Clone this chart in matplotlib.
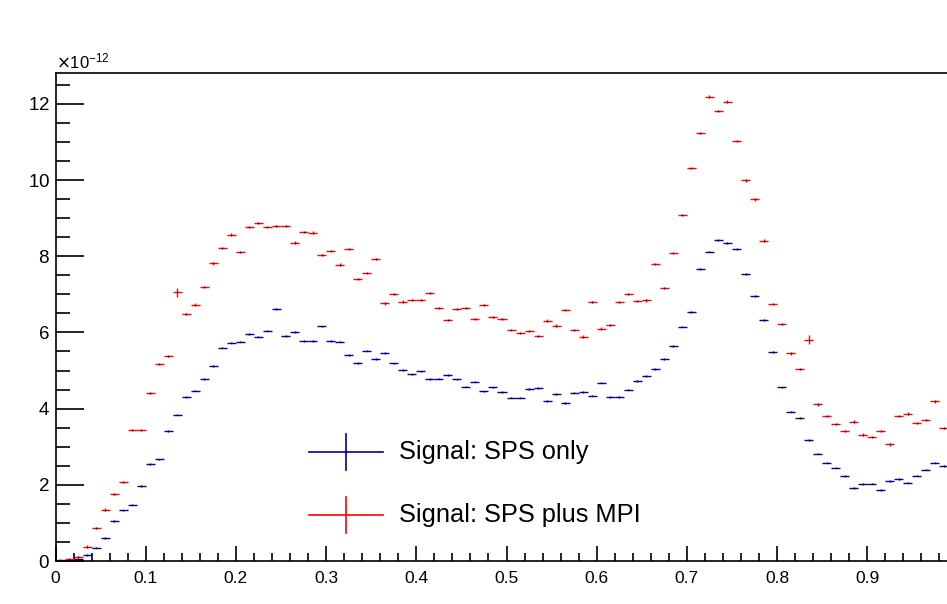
import numpy as np
import matplotlib
matplotlib.use("Agg")
import matplotlib.pyplot as plt
from matplotlib.ticker import MultipleLocator, ScalarFormatter
from matplotlib.lines import Line2D

plt.rcParams['font.family'] = ['Liberation Sans', 'DejaVu Sans']

# histogram: 100 bins on [0, 1], only the first 99 are visible in the picture
bin_width = 0.01
scale = 1e-12

# Signal: SPS only (units of 1e-12)
sps_only = [
    0.01, 0.03, 0.04, 0.16, 0.35, 0.61, 1.05, 1.33, 1.48, 1.97,
    2.54, 2.67, 3.41, 3.84, 4.31, 4.47, 4.78, 5.12, 5.60, 5.73,
    5.76, 5.96, 5.89, 6.05, 6.61, 5.90, 6.01, 5.78, 5.78, 6.16,
    5.78, 5.76, 5.41, 5.20, 5.52, 5.30, 5.46, 5.19, 5.01, 4.90,
    4.98, 4.78, 4.79, 4.88, 4.77, 4.58, 4.71, 4.45, 4.56, 4.43,
    4.29, 4.29, 4.51, 4.54, 4.20, 4.39, 4.15, 4.42, 4.44, 4.34,
    4.68, 4.31, 4.30, 4.50, 4.72, 4.86, 5.04, 5.30, 5.64, 6.15,
    6.54, 7.67, 8.12, 8.43, 8.35, 8.19, 7.54, 6.95, 6.33, 5.48,
    4.56, 3.92, 3.75, 3.18, 2.82, 2.58, 2.45, 2.23, 1.91, 2.02,
    2.03, 1.86, 2.10, 2.15, 2.06, 2.24, 2.40, 2.58, 2.50,
]

# Signal: SPS plus MPI (units of 1e-12)
sps_mpi = [
    0.02, 0.05, 0.10, 0.38, 0.87, 1.35, 1.76, 2.07, 3.44, 3.44,
    4.41, 5.17, 5.39, 7.05, 6.49, 6.73, 7.19, 7.81, 8.22, 8.57,
    8.12, 8.77, 8.88, 8.76, 8.80, 8.79, 8.36, 8.63, 8.62, 8.04,
    8.14, 7.78, 8.19, 7.41, 7.56, 7.93, 6.76, 7.01, 6.81, 6.85,
    6.85, 7.04, 6.64, 6.33, 6.61, 6.64, 6.36, 6.72, 6.40, 6.36,
    6.07, 5.99, 6.04, 5.91, 6.31, 6.18, 6.58, 6.06, 5.89, 6.79,
    6.10, 6.19, 6.80, 7.00, 6.82, 6.84, 7.80, 7.17, 8.08, 9.08,
    10.32, 11.23, 12.19, 11.81, 12.06, 11.02, 9.99, 9.49, 8.41, 6.75,
    6.22, 5.45, 5.04, 5.81, 4.11, 3.81, 3.60, 3.41, 3.66, 3.32,
    3.26, 3.42, 3.06, 3.80, 3.87, 3.62, 3.70, 4.19, 3.50,
]

# typical error bar sizes, and the two bins with big errors
err_sps_only = 0.02
err_sps_mpi = 0.03
big_err_mpi = {13: 0.12, 83: 0.12}

n = len(sps_only)
x = (np.arange(n) + 0.5) * bin_width
y1 = np.array(sps_only) * scale
y2 = np.array(sps_mpi) * scale
e1 = np.full(n, err_sps_only) * scale
e2 = np.full(n, err_sps_mpi)
for k, v in big_err_mpi.items():
    e2[k] = v
e2 = e2 * scale

blue = '#000099'
red = '#ff0000'

fig = plt.figure(figsize=(9.47, 6.04), dpi=100)
W, H = 947, 604
# axes frame runs past the right edge of the picture
ax = fig.add_axes([55.5 / W, (H - 561) / H, 902 / W, (561 - 73) / H])

ax.errorbar(x, y1, xerr=bin_width / 2, yerr=e1, fmt='none', ecolor=blue, elinewidth=1.0)
ax.errorbar(x, y2, xerr=bin_width / 2, yerr=e2, fmt='none', ecolor=red, elinewidth=1.0)
ax.plot(x, y1, 'o', color='black', ms=1.0, mew=0)
ax.plot(x, y2, 'o', color='black', ms=1.0, mew=0)

ax.set_xlim(0, 1)
ax.set_ylim(0, 12.81e-12)

ax.spines['right'].set_visible(False)
for s in ['left', 'bottom', 'top']:
    ax.spines[s].set_linewidth(1.2)

ax.xaxis.set_major_locator(MultipleLocator(0.1))
ax.xaxis.set_minor_locator(MultipleLocator(0.02))
ax.yaxis.set_major_locator(MultipleLocator(2e-12))
ax.yaxis.set_minor_locator(MultipleLocator(0.5e-12))

fmt = ScalarFormatter(useMathText=True)
fmt.set_powerlimits((-12, -12))
ax.yaxis.set_major_formatter(fmt)
ax.yaxis.get_offset_text().set_fontsize(12)
ax.xaxis.get_offset_text().set_visible(False)

ax.tick_params(axis='y', which='major', direction='in', length=20, width=1.2, labelsize=13.5, pad=4)
ax.tick_params(axis='y', which='minor', direction='in', length=10, width=1.2)
ax.tick_params(axis='x', which='major', direction='in', length=11, width=1.2, labelsize=12.5, pad=7)
ax.tick_params(axis='x', which='minor', direction='in', length=5.5, width=1.2)
ax.tick_params(top=False, right=False, which='both')

ax.set_xticks(np.arange(0, 1.0, 0.1))
ax.set_xticklabels(['0', '0.1', '0.2', '0.3', '0.4', '0.5', '0.6', '0.7', '0.8', '0.9'])

# legend drawn by hand, ROOT style crosses
legend_rows = [('Signal: SPS only', blue, 452), ('Signal: SPS plus MPI', red, 515)]
for label, col, py in legend_rows:
    yf = (H - py) / H
    fig.add_artist(Line2D([309 / W, 383 / W], [yf, yf], color=col, lw=1.2))
    fig.add_artist(Line2D([346 / W, 346 / W], [yf - 18 / H, yf + 18 / H], color=col, lw=1.2))
    fig.text(399 / W, yf, label, fontsize=18.3, va='center', ha='left')

fig.savefig('out.png', dpi=100)
